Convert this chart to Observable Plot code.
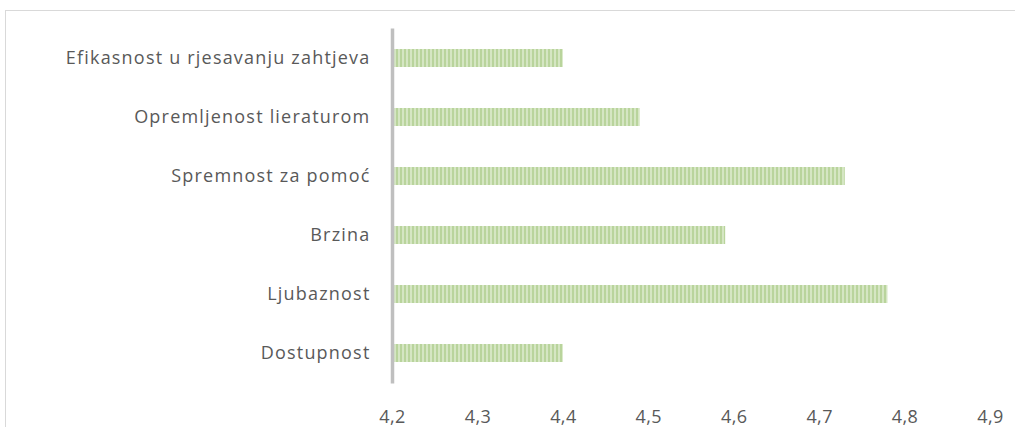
<!DOCTYPE html>
<html>
<head>
<meta charset="utf-8">
<script src="https://cdn.jsdelivr.net/npm/d3@7"></script>
<script src="https://cdn.jsdelivr.net/npm/@observablehq/plot@0.6"></script>
<style>
  body { margin: 0; background: #fff; overflow: hidden; }
  #wrap { position: relative; width: 1015px; height: 427px; }
  #frame { position: absolute; left: 5px; top: 10px; width: 1200px; height: 600px; border: 1px solid #d9d9d9; box-sizing: border-box; }
  #chart { position: absolute; left: 0; top: 0; }
  .ylab text { letter-spacing: 1.2px; }
  .xlab text { letter-spacing: 0.4px; }
</style>
</head>
<body>
<div id="wrap"><div id="frame"></div><div id="chart"></div></div>
<script>
const categories = ["Efikasnost u rjesavanju zahtjeva", "Opremljenost lieraturom", "Spremnost za pomoć", "Brzina", "Ljubaznost", "Dostupnost"];
const values = [4.40, 4.49, 4.73, 4.59, 4.78, 4.40];
const xTicks = [4.2, 4.3, 4.4, 4.5, 4.6, 4.7, 4.8, 4.9];

const data = categories.map((c, i) => ({cat: c, value: values[i]}));

const chart = Plot.plot({
  width: 1015,
  height: 427,
  marginLeft: 392,
  marginRight: 25,
  marginTop: 28.5,
  marginBottom: 43.5,
  style: {fontFamily: "'Open Sans', sans-serif", fontSize: "18px", color: "#595959", background: "transparent"},
  x: {domain: [4.2, 4.9], ticks: xTicks, label: null},
  y: {domain: categories, paddingInner: 0.69, paddingOuter: 0.345, label: null},
  marks: [
    Plot.barX(data, {x1: 4.2, x2: "value", y: "cat", fill: "#c4dbaa", insetLeft: 2, className: "stripebar"}),
    Plot.ruleX([4.2], {stroke: "#bfbfbf", strokeWidth: 3.5}),
    Plot.axisX({ticks: xTicks, tickSize: 0, tickPadding: 26, label: null, tickFormat: d => d.toFixed(1).replace(".", ","), fontSize: 18, className: "xlab"}),
    Plot.axisY({tickSize: 0, tickPadding: 22, label: null, fontSize: 18, className: "ylab"})
  ]
});

document.getElementById("chart").appendChild(chart);

const svg = d3.select(chart);
const defs = svg.insert("defs", ":first-child");
const pat = defs.append("pattern")
  .attr("id", "stripes")
  .attr("patternUnits", "userSpaceOnUse")
  .attr("width", 4).attr("height", 10);
pat.append("rect").attr("x", 0).attr("y", 0).attr("width", 4).attr("height", 10).attr("fill", "#d5e6c3");
pat.append("rect").attr("x", 0).attr("y", 0).attr("width", 2).attr("height", 10).attr("fill", "#b9d49c");
svg.selectAll(".stripebar rect").attr("fill", "url(#stripes)");
</script>
</body>
</html>
